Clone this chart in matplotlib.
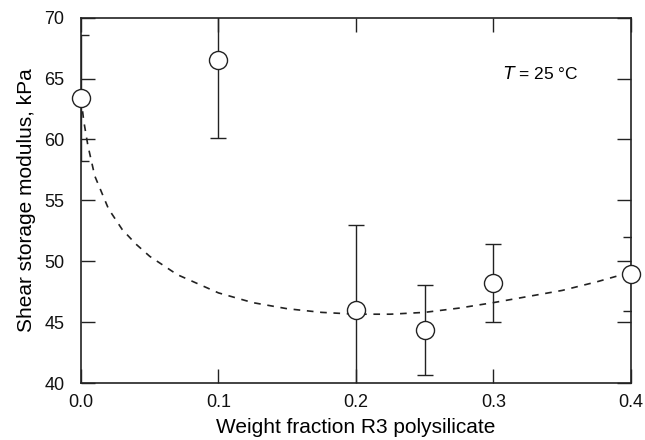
import matplotlib
matplotlib.use("Agg")
import matplotlib.pyplot as plt
import numpy as np

# measured points
wf = [0.0, 0.1, 0.2, 0.25, 0.3, 0.4]
G = [63.4, 66.5, 46.0, 44.35, 48.25, 48.95]
G_lo = [58.25, 60.1, 39.0, 40.65, 45.05, 45.9]
G_hi = [68.6, 72.9, 53.0, 48.05, 51.45, 52.0]

# dashed trend curve
fit_x = [0.0, 0.002, 0.005, 0.01, 0.02, 0.03, 0.04, 0.05, 0.07, 0.10, 0.125,
         0.15, 0.175, 0.20, 0.225, 0.25, 0.275, 0.30, 0.325, 0.35, 0.375, 0.40]
fit_y = [63.4, 61.5, 59.5, 57.0, 54.3, 52.6, 51.4, 50.4, 48.9, 47.4, 46.6,
         46.1, 45.8, 45.65, 45.65, 45.8, 46.15, 46.6, 47.1, 47.6, 48.3, 49.1]

xticks = [0.0, 0.1, 0.2, 0.3, 0.4]
yticks = [40, 45, 50, 55, 60, 65, 70]

plt.rcParams['font.family'] = ['Liberation Sans', 'DejaVu Sans']
ink = '#222222'

fig = plt.figure(figsize=(6.45, 4.4), dpi=100)
ax = fig.add_axes([0.1256, 0.1295, 0.978 - 0.1256, 0.960 - 0.1295])

ax.plot(fit_x, fit_y, color=ink, lw=1.2, dashes=(4, 4))

yerr = [np.array(G) - np.array(G_lo), np.array(G_hi) - np.array(G)]
ax.errorbar(wf, G, yerr=yerr, fmt='none', ecolor=ink, elinewidth=1.0,
            capsize=6, capthick=1.0)
ax.plot(wf, G, 'o', ms=13, mfc='white', mec=ink, mew=1.0, clip_on=False, zorder=5)

ax.set_xlim(0, 0.4)
ax.set_ylim(40, 70)
ax.set_xticks(xticks)
ax.set_xticklabels(['%.1f' % v for v in xticks])
ax.set_yticks(yticks)
ax.tick_params(direction='in', top=True, right=True, length=10, width=1.0,
               colors=ink, labelsize=13, labelcolor='#111111')
ax.tick_params(axis='x', pad=8)
ax.tick_params(axis='y', pad=12)
for s in ax.spines.values():
    s.set_color(ink)
    s.set_linewidth(1.2)

ax.set_xlabel('Weight fraction R3 polysilicate', fontsize=15, labelpad=5)
ax.set_ylabel('Shear storage modulus, kPa', fontsize=15, labelpad=6)
ax.text(0.307, 65.45, r'$\it{T}$ = 25 °C', fontsize=12.5, va='center', ha='left')

fig.savefig('out.png', dpi=100)
